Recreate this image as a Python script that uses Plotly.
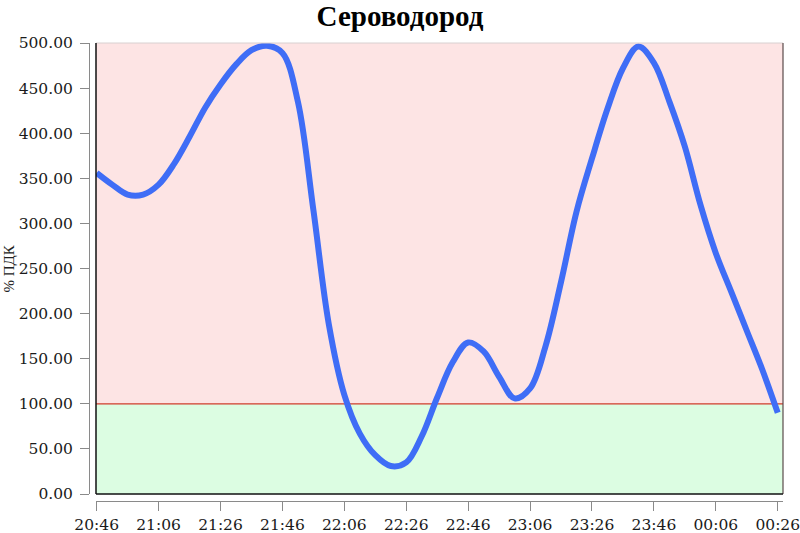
import plotly.graph_objects as go
from datetime import datetime, timedelta

# ---- data ----
times = ["20:46", "20:51", "20:56", "21:01", "21:06", "21:11", "21:16", "21:21", "21:26",
         "21:31", "21:36", "21:41", "21:46", "21:51", "21:56", "22:01", "22:06", "22:11",
         "22:16", "22:21", "22:26", "22:31", "22:36", "22:41", "22:46", "22:51", "22:56",
         "23:01", "23:06", "23:11", "23:16", "23:21", "23:26", "23:31", "23:36", "23:41",
         "23:46", "23:51", "23:56", "00:01", "00:06", "00:11", "00:16", "00:21", "00:26"]
values = [356, 343, 332, 332, 343, 366, 396, 428, 454,
          476, 492, 497, 489, 435, 315, 188, 110, 67,
          43, 31, 35, 64, 107, 146, 168, 158, 130,
          106, 117, 164, 235, 313, 372, 427, 472, 496,
          478, 435, 385, 321, 267, 224, 181, 138, 90]
limit = 100
y_ticks = [0, 50, 100, 150, 200, 250, 300, 350, 400, 450, 500]
title_text = "Сероводород"
y_title = "% ПДК"

# convert times to datetimes (crossing midnight)
base = datetime(2024, 1, 1)
xs = []
prev = None
day = 0
for t in times:
    h, m = map(int, t.split(":"))
    if prev is not None and h < prev:
        day = 1
    prev = h
    xs.append(base + timedelta(days=day, hours=h, minutes=m))

x0 = xs[0]
x_start = x0 - timedelta(seconds=13)
x_end = x0 + timedelta(minutes=221.7)

W, H = 800, 533
ml, mr, mt, mb = 89, 17, 43, 32
pw = W - ml - mr
ph = H - mt - mb

fig = go.Figure()
fig.add_trace(go.Scatter(x=xs, y=values, mode="lines",
                         line=dict(color="#3F6DF6", width=6, shape="spline", smoothing=1),
                         hoverinfo="skip", showlegend=False))

shapes = [
    dict(type="rect", xref="x domain", yref="y", x0=0, x1=1, y0=limit, y1=500,
         fillcolor="#FDE4E4", line=dict(width=0), layer="below"),
    dict(type="rect", xref="x domain", yref="y", x0=0, x1=1, y0=0, y1=limit,
         fillcolor="#DCFDE2", line=dict(width=0), layer="below"),
    dict(type="line", xref="x domain", yref="y", x0=0, x1=1, y0=limit, y1=limit,
         line=dict(color="#D23A2A", width=1.2), layer="below"),
    dict(type="line", xref="x domain", yref="y domain", x0=0, x1=1, y0=1, y1=1,
         line=dict(color="#D8D0D0", width=1)),
    dict(type="line", xref="x domain", yref="y domain", x0=1, x1=1, y0=0, y1=1,
         line=dict(color="#5A4A4A", width=1.2)),
    dict(type="line", xref="x domain", yref="y domain", x0=0, x1=0, y0=0, y1=1,
         line=dict(color="#111111", width=1.5)),
    dict(type="line", xref="x domain", yref="y domain", x0=0, x1=1, y0=0, y1=0,
         line=dict(color="#111111", width=1.5)),
]

tickfont = dict(family="DejaVu Serif", size=15.5, color="#1A1A1A")

fig.update_layout(
    width=W, height=H,
    margin=dict(l=ml, r=mr, t=mt, b=mb, pad=0, autoexpand=False),
    paper_bgcolor="white", plot_bgcolor="rgba(0,0,0,0)",
    shapes=shapes,
    title=dict(text="<b>%s</b>" % title_text, x=0.5, xref="container", xanchor="center",
               y=1 - 16 / H, yref="container", yanchor="middle",
               font=dict(family="Liberation Serif", size=29, color="#000000")),
    xaxis=dict(type="date", range=[x_start, x_end], domain=[7 / pw, 1],
               anchor="free", position=0, automargin=False,
               tick0=x0, dtick=20 * 60 * 1000, tickformat="%H:%M",
               ticklabeloverflow="allow",
               showgrid=False, zeroline=False,
               showline=True, linecolor="#8A8A8A", linewidth=1,
               ticks="outside", ticklen=9, tickcolor="#8A8A8A", tickwidth=1,
               tickfont=tickfont),
    yaxis=dict(range=[0, 500], domain=[7 / ph, 1],
               anchor="free", position=0, automargin=False,
               tickvals=y_ticks, tickformat=".2f",
               showgrid=False, zeroline=False,
               showline=True, linecolor="#8A8A8A", linewidth=1,
               ticks="outside", ticklen=9, tickcolor="#8A8A8A", tickwidth=1,
               ticklabelstandoff=4,
               tickfont=tickfont),
    annotations=[dict(text=y_title, textangle=-90, xref="paper", yref="paper",
                      x=-81 / pw, y=0.5 + 3.5 / ph, xanchor="center", yanchor="middle",
                      showarrow=False,
                      font=dict(family="Liberation Serif", size=15, color="#222222"))],
)

fig.write_html("out.html", config={"displayModeBar": False},
               post_script="document.body.style.margin='0px';")
